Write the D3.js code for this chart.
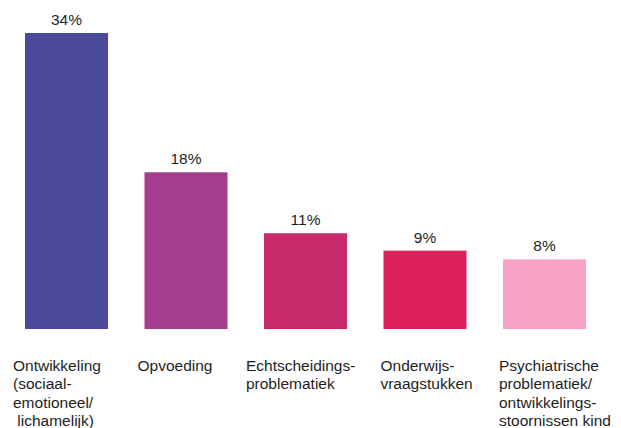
<!DOCTYPE html>
<html>
<head>
<meta charset="utf-8">
<style>
body { margin: 0; background: #fff; }
text { font-family: "Liberation Sans", Arial, sans-serif; fill: #1e1e1e; }
</style>
</head>
<body>
<div id="chart"></div>
<script src="https://d3js.org/d3.v7.min.js"></script>
<script>
// data
var categories = ["ontw", "opv", "echt", "onderw", "psych"];
var labels = [
  ["Ontwikkeling", "(sociaal-", "emotioneel/", " lichamelijk)"],
  ["Opvoeding"],
  ["Echtscheidings-", "problematiek"],
  ["Onderwijs-", "vraagstukken"],
  ["Psychiatrische", "problematiek/", "ontwikkelings-", "stoornissen kind"]
];
var values = [34, 18, 11, 9, 8];
var colors = ["#4b4a9d", "#a33d8d", "#c72b6c", "#dd215b", "#f8a4c7"];

var width = 621, height = 428;

var svg = d3.select("#chart").append("svg")
    .attr("width", width)
    .attr("height", height);

var x = d3.scaleBand().domain(categories).range([25, 586]).paddingInner(0.305).paddingOuter(0);
var y = d3.scaleLinear().domain([0, 34]).range([329, 33]);

// bars
svg.selectAll("rect.bar")
  .data(values)
  .enter().append("rect")
    .attr("class", "bar")
    .attr("x", function(d, i) { return x(categories[i]); })
    .attr("y", function(d) { return y(d); })
    .attr("width", x.bandwidth())
    .attr("height", function(d) { return y(0) - y(d); })
    .attr("fill", function(d, i) { return colors[i]; });

// value labels
svg.selectAll("text.val")
  .data(values)
  .enter().append("text")
    .attr("class", "val")
    .attr("x", function(d, i) { return x(categories[i]) + x.bandwidth() / 2; })
    .attr("y", function(d) { return y(d) - 8; })
    .attr("text-anchor", "middle")
    .style("font-size", "15.5px")
    .text(function(d) { return d + "%"; });

// category labels, left aligned a little before each bar
var labelShift = [-12, -7, -18, -3, -4];
var cat = svg.selectAll("text.cat")
  .data(labels)
  .enter().append("text")
    .attr("class", "cat")
    .attr("x", function(d, i) { return x(categories[i]) + labelShift[i]; })
    .attr("y", 371)
    .style("font-size", "15.5px")
    .style("white-space", "pre");

cat.selectAll("tspan")
  .data(function(d, i) { return d.map(function(s) { return {s: s, i: i}; }); })
  .enter().append("tspan")
    .attr("x", function(d) { return x(categories[d.i]) + labelShift[d.i]; })
    .attr("dy", function(d, j) { return j === 0 ? 0 : 18.3; })
    .text(function(d) { return d.s; });
</script>
</body>
</html>
